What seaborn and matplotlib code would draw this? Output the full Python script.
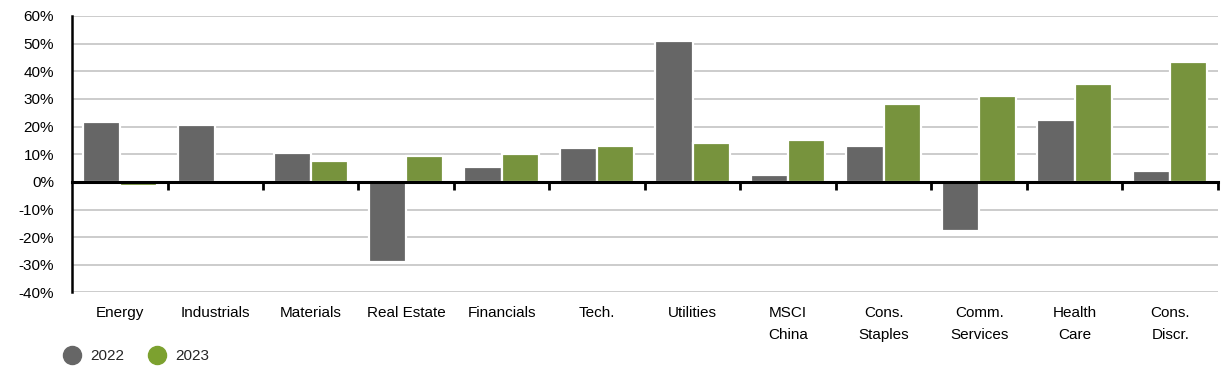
import matplotlib
matplotlib.use("Agg")
import matplotlib.pyplot as plt
from matplotlib.lines import Line2D
from matplotlib.ticker import PercentFormatter
import seaborn as sns
import numpy as np
import pandas as pd

# sector returns
sectors = ["Energy", "Industrials", "Materials", "Real Estate", "Financials", "Tech.",
           "Utilities", "MSCI\nChina", "Cons.\nStaples", "Comm.\nServices", "Health\nCare",
           "Cons.\nDiscr."]
ret_2022 = [0.216, 0.205, 0.103, -0.291, 0.054, 0.121, 0.509, 0.025, 0.129, -0.176, 0.223, 0.038]
ret_2023 = [-0.015, 0.0, 0.074, 0.094, 0.100, 0.129, 0.140, 0.150, 0.281, 0.310, 0.353, 0.433]
years = ["2022", "2023"]
colors = {"2022": "#666666", "2023": "#7ca12f"}

df = pd.DataFrame({
    "sector": sectors * 2,
    "year": [years[0]] * len(sectors) + [years[1]] * len(sectors),
    "ret": ret_2022 + ret_2023,
})

sns.set_style("white")
plt.rcParams["font.family"] = ["Liberation Sans", "DejaVu Sans"]
plt.rcParams["axes.unicode_minus"] = False

fig = plt.figure(figsize=(12.31, 3.8), dpi=100)
ax = fig.add_axes([0.0585, 0.2303, 0.9309, 0.7276])

sns.barplot(data=df, x="sector", y="ret", hue="year", order=sectors, hue_order=years,
            palette=colors, width=0.78, edgecolor="white", linewidth=1.6,
            legend=False, ax=ax, zorder=2)

ax.set_ylim(-0.4, 0.6)
ax.set_xlim(-0.5, len(sectors) - 0.5)
ax.set_yticks(np.round(np.arange(-0.4, 0.61, 0.1), 2) + 0.0)
ax.yaxis.set_major_formatter(PercentFormatter(1.0, decimals=0))
ax.grid(axis="y", color="#c8c8c8", linewidth=1.3, zorder=0)
ax.set_axisbelow(True)
ax.set_xlabel("")
ax.set_ylabel("")

for s in ["top", "right", "bottom"]:
    ax.spines[s].set_visible(False)
ax.spines["left"].set_color("black")
ax.spines["left"].set_linewidth(1.8)

ax.tick_params(axis="y", length=0, pad=13, labelsize=11, labelcolor="black")
ax.tick_params(axis="x", length=0, pad=10, labelsize=11, labelcolor="black")

# zero line with tick marks between the sector groups
zero = ax.secondary_xaxis(0.4)
zero.set_zorder(5)
zero.set_xticks(np.arange(len(sectors)) + 0.5)
zero.set_xticklabels([])
zero.spines["bottom"].set_linewidth(2.2)
zero.spines["bottom"].set_color("black")
zero.tick_params(axis="x", length=6, width=2, color="black", direction="out")

handles = [Line2D([], [], marker="o", linestyle="", markersize=13,
                  markerfacecolor=colors[y], markeredgecolor=colors[y], label=y)
           for y in years]
fig.legend(handles=handles, loc="center left", bbox_to_anchor=(0.035, 0.062), ncol=2,
           frameon=False, fontsize=11, handletextpad=0.2, columnspacing=1.15)

# wider spacing for the two-line category labels
fig.canvas.draw()
for tick in ax.xaxis.get_major_ticks():
    tick.label1.set_linespacing(1.7)

fig.savefig("out.png", dpi=100)
